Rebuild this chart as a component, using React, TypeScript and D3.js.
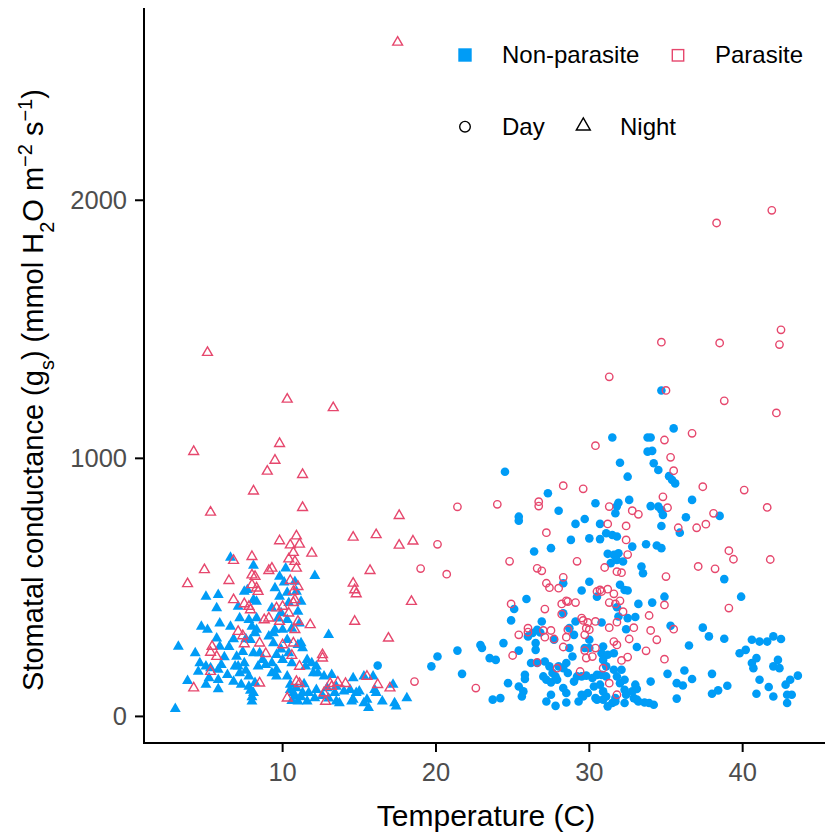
import React from 'react';
import * as d3 from 'd3';

const xTicks = [10, 20, 30, 40];
const yTicks = [0, 1000, 2000];
const groupLabels = ['Non-parasite', 'Parasite'];
const timeLabels = ['Day', 'Night'];

// [temperature (C), stomatal conductance]
const nonParasiteNight: [number, number][] = [
  [3.0,29],[3.2,271],[3.8,138],[4.3,245],[4.6,207],[4.5,174],[4.7,348],[5.1,336],[5.0,464],[5.8,471],[5.7,420],[5.9,361],[5.7,303],[5.9,271],[5.2,149],[5.8,106],[5.3,187],[5.8,181],[6.6,615],[6.6,348],[7.2,381],[7.0,232],[6.9,194],[6.8,135],[7.2,168],[7.7,490],[8.1,584],[8.1,452],[8.3,381],[8.3,336],[7.9,297],[8.1,245],[7.8,116],[8.1,91],[8.0,58],[8.4,194],[8.7,219],[9.1,310],[9.3,207],[9.6,181],[9.6,155],[9.8,542],[10.2,574],[9.8,464],[9.9,400],[10.0,336],[10.3,297],[10.4,245],[10.6,207],[10.5,103],[10.8,77],[11.0,58],[10.8,522],[10.9,484],[11.0,406],[11.2,284],[11.5,194],[12.1,545],[11.9,207],[12.3,168],[11.7,91],[12.1,71],[13.0,316],[13.2,161],[13.5,116],[14.0,97],[14.6,149],[15.3,155],[14.8,91],[15.5,65],[15.6,33],[15.9,155],[16.0,103],[16.5,58],[17.2,123],[17.3,52],[18.1,71],[14.5,58],[13.5,58],
  [7.1,426],[7.8,374],[8.0,348],[8.2,323],[5.0,194],[7.1,194],[7.5,207],[6.4,161],[5.8,142],[5.0,123],[7.3,123],[9.4,284],[8.5,245],[8.9,200],[9.3,168],[7.6,178],[7.8,155],[9.5,336],[9.5,497],[7.5,484],[8.3,445],
  [11.2,445],[10.3,374],[11.1,361],[9.4,323],[11.0,277],[11.3,265],[9.6,239],[10.0,219],[11.6,219],[12.2,194],[10.3,155],[12.0,168],[12.7,155],[10.5,123],[10.7,91],[11.3,91],[11.6,58],[12.2,103],[13.4,91],[13.7,52],[14.4,103],[14.6,65],[15.0,97],[15.3,52],[16.1,91],[17.4,39],
  [10.6,60],[11.2,75],[10.9,110],[11.4,125],[12.6,80],[12.9,110],[13.0,70],[8.0,75],[8.2,130],[7.9,100],[6.2,230],[6.5,270],[6.8,300],[7.4,250],[7.6,300],[6.0,200],[9.3,420],[9.7,380],[10.1,520],[10.3,480],[10.4,440],[10.6,340],[9.9,260]
];

const parasiteNight: [number, number][] = [
  [17.5,2612],[5.1,1410],[10.3,1229],[13.3,1196],[4.2,1026],[9.8,1057],[9.5,992],[9.0,950],[11.3,937],[8.1,873],[11.3,809],[5.3,791],[17.6,778],[14.6,694],[16.1,704],[17.6,663],[18.5,679],[9.8,680],[10.9,699],[10.5,664],[11.1,667],[10.4,610],[10.7,635],[10.8,600],[11.9,632],[8.0,619],[6.8,604],[4.9,568],[3.8,514],[6.5,526],[9.3,574],[9.1,565],[8.0,548],[8.2,542],[8.0,510],[8.3,497],[8.4,484],[6.8,452],[7.5,436],[7.8,426],[7.9,413],[8.8,374],[9.1,381],[7.1,329],[7.4,312],[7.5,281],[8.5,284],[8.9,243],[5.4,271],[5.3,248],[5.7,232],[8.5,129],[4.2,110],[9.6,420],[15.7,565],[14.6,516],[14.7,490],[14.8,475],[10.5,526],[11.0,503],[10.7,484],[10.8,452],[10.7,441],[10.0,426],[14.7,368],[11.8,355],[9.8,368],[10.8,336],[16.9,303],[10.0,277],[10.7,284],[12.6,239],[12.6,226],[10.6,236],[11.1,194],[10.9,135],[11.1,127],[13.1,127],[13.2,116],[13.6,132],[14.1,127],[12.7,91],[12.8,58],[15.5,155],[16.2,123],[17.0,110],[10.3,71],[18.4,445],[5.3,174],[10.4,400],[11.0,368],[10.9,574]
];

const nonParasiteDay: [number, number][] = [
  [31.5,1081],[33.8,1081],[34.0,1081],[35.5,1116],[33.8,1026],[34.1,1029],[32.0,983],[34.2,981],[34.5,955],[32.5,929],[35.2,931],[35.4,916],[35.6,903],[24.5,948],[27.3,865],[25.4,774],[25.4,758],[28.0,797],[30.4,826],[31.9,828],[31.8,815],[31.7,787],[32.6,839],[34.0,815],[34.5,813],[34.7,800],[34.8,781],[36.7,839],[36.3,772],[35.9,712],[38.5,777],[34.7,738],[29.1,746],[29.7,765],[30.7,746],[30.0,690],[30.7,687],[28.8,684],[27.5,652],[26.4,639],[31.1,710],[31.5,703],[31.8,697],[32.8,658],[33.7,667],[34.4,662],[34.7,652],[31.2,630],[31.6,626],[31.9,632],[31.4,594],[31.8,606],[32.2,600],[33.4,581],[33.5,555],[30.0,522],[29.5,488],[30.5,464],[32.0,510],[32.3,490],[32.5,488],[25.9,455],[25.1,416],[24.9,372],[28.3,516],[28.3,400],[33.2,436],[34.1,441],[34.9,464],[38.8,532],[39.9,464],[31.8,423],[31.9,387],[32.5,381],[33.0,385],[32.4,338],[30.8,364],[29.1,368],[28.7,342],[29.0,316],[35.3,351],[37.4,344],[37.8,310],[38.8,301],[36.5,275],[33.1,269],[40.6,297],[41.1,290],[41.6,290],[42.0,310],[42.5,300],[39.8,245],[40.2,258],[40.6,207],[40.9,226],[40.7,187],[42.3,219],[42.0,194],[42.4,187],[41.1,142],[41.7,114],[40.9,88],[42.0,77],[42.9,52],[42.9,84],[43.2,84],[42.8,123],[43.1,142],[43.6,158],[38.0,165],[38.0,88],[38.4,101],[39.0,119],[35.1,165],[35.7,129],[36.1,120],[36.2,178],[36.7,145],[35.7,69],[34.0,135],[34.2,45],[33.6,54],[33.2,58],[32.9,71],[33.1,106],[33.0,123],[32.3,52],[31.7,58],[31.2,39],[30.9,65],[32.3,142],[32.3,103],[32.4,84],[31.8,155],[32.0,129],[30.4,71],[29.9,91],[29.6,77],[29.3,58],[29.5,84],[27.8,41],[28.5,54],[27.2,58],[27.5,84],[28.5,91],[28.3,110],[30.3,116],[30.7,123],[30.2,149],[29.0,135],[29.2,155],[29.5,155],[29.8,158],[31.1,155],[30.8,161],[30.5,161],[28.6,168],[28.3,187],[28.5,207],[28.9,232],[28.7,265],[28.0,194],[27.8,155],[27.5,132],[27.2,142],[27.0,155],[26.6,207],[26.2,207],[25.8,161],[25.8,145],[25.4,116],[25.7,97],[25.6,77],[24.7,129],[23.7,65],[24.2,71],[25.4,255],[24.4,284],[22.9,277],[23.0,265],[23.5,226],[23.9,219],[21.7,165],[21.4,255],[20.1,232],[19.7,194],[26.0,310],[26.3,323],[26.6,336],[26.5,258],[26.5,284],[27.7,297],[26.9,368],[29.7,265],[30.0,265],[30.9,271],[30.8,245],[31.2,239],[31.6,245],[30.9,219],[31.1,194],[16.2,197],[34.7,1263],[26.8,325],[27.1,213],[27.4,194],[27.6,168],[27.9,142],[32.8,97],[33.1,65],[33.9,52],[31.7,71],[31.1,77],[30.5,65],[30.9,97],[31.5,52],[30.0,297],[31.6,181],[32.1,181]
];

const parasiteDay: [number, number][] = [
  [38.3,1912],[41.9,1961],[42.5,1498],[42.4,1441],[38.5,1447],[34.7,1450],[31.3,1316],[35.0,1263],[38.8,1223],[42.2,1176],[30.4,1049],[34.9,1071],[36.7,1097],[35.3,1004],[35.5,952],[28.3,894],[29.6,882],[37.4,890],[40.1,877],[21.4,812],[24.0,822],[26.7,832],[26.7,815],[31.3,813],[32.8,797],[33.2,783],[34.8,851],[35.1,809],[41.6,810],[38.1,787],[27.2,712],[31.2,746],[32.4,738],[35.8,731],[37.0,731],[37.6,745],[32.4,684],[20.1,667],[19.0,573],[20.7,551],[24.8,601],[29.2,601],[26.6,574],[26.9,564],[32.5,627],[31.0,577],[31.8,561],[32.1,557],[39.1,642],[39.4,609],[41.8,608],[37.1,581],[38.2,572],[35.0,542],[28.3,539],[27.2,516],[27.4,499],[28.0,497],[30.7,490],[30.8,484],[30.5,484],[31.2,493],[31.6,475],[32.0,448],[31.7,436],[24.9,436],[28.5,448],[28.6,445],[29.1,441],[28.2,436],[31.3,441],[34.9,432],[39.1,420],[27.1,416],[28.2,396],[32.2,406],[33.9,391],[29.5,381],[29.6,372],[29.9,364],[30.4,368],[30.0,336],[29.8,342],[31.8,365],[31.3,344],[32.9,344],[32.6,300],[34.0,333],[34.4,297],[35.5,338],[26.0,342],[26.0,327],[25.4,316],[27.0,333],[27.5,333],[27.1,307],[27.7,300],[28.6,336],[28.5,307],[29.7,316],[31.6,290],[31.8,277],[28.3,269],[29.7,255],[30.4,265],[29.8,226],[30.2,232],[33.7,254],[32.5,230],[32.1,217],[34.9,222],[25.0,236],[26.6,209],[30.9,187],[31.3,129],[31.8,84],[22.6,110],[18.6,135],[27.9,187],[29.4,174]
];

const BLUE = '#009CF6';
const PINK = '#E6476D';
const TICK_GREY = '#4D4D4D';
const FONT = '"Liberation Sans", Arial, Helvetica, sans-serif';

export default function App() {
  const W = 825;
  const H = 837;
  const left = 144;
  const bottom = 743;
  const top = 8;
  const x = d3.scaleLinear().domain([0.96, 45.5]).range([left, 827]);
  const y = d3.scaleLinear().domain([-103, 2745]).range([bottom, top]);

  const triFilled = d3.symbol().type(d3.symbolTriangle).size(52)() as string;
  const triOpen = d3.symbol().type(d3.symbolTriangle).size(42)() as string;
  const triLegend = d3.symbol().type(d3.symbolTriangle).size(85)() as string;

  return (
    <svg width={W} height={H} style={{ position: 'absolute', left: 0, top: 0, background: '#fff' }} fontFamily={FONT}>
      <rect x={0} y={0} width={W} height={H} fill="#fff" />
      <g>
        {nonParasiteNight.map((d, i) => (
          <path key={'bn' + i} d={triFilled} transform={`translate(${x(d[0])},${y(d[1])})`} fill={BLUE} />
        ))}
        {nonParasiteDay.map((d, i) => (
          <circle key={'bd' + i} cx={x(d[0])} cy={y(d[1])} r={4.3} fill={BLUE} />
        ))}
        {parasiteNight.map((d, i) => (
          <path key={'pn' + i} d={triOpen} transform={`translate(${x(d[0])},${y(d[1])})`} fill="none" stroke={PINK} strokeWidth={1.4} />
        ))}
        {parasiteDay.map((d, i) => (
          <circle key={'pd' + i} cx={x(d[0])} cy={y(d[1])} r={3.7} fill="none" stroke={PINK} strokeWidth={1.4} />
        ))}
      </g>

      {/* axes */}
      <line x1={left} x2={left} y1={top} y2={bottom + 1} stroke="#000" strokeWidth={2} />
      <line x1={left - 1} x2={W} y1={bottom} y2={bottom} stroke="#000" strokeWidth={2} />
      {xTicks.map(t => (
        <g key={'xt' + t}>
          <line x1={x(t)} x2={x(t)} y1={bottom} y2={bottom + 9} stroke="#000" strokeWidth={2} />
          <text x={x(t)} y={780.5} textAnchor="middle" fontSize={25.5} fill={TICK_GREY}>{t}</text>
        </g>
      ))}
      {yTicks.map(t => (
        <g key={'yt' + t}>
          <line x1={left - 9} x2={left} y1={y(t)} y2={y(t)} stroke="#000" strokeWidth={2} />
          <text x={127} y={y(t) + 9} textAnchor="end" fontSize={25.5} fill={TICK_GREY}>{t}</text>
        </g>
      ))}

      {/* axis titles */}
      <text x={486} y={826} textAnchor="middle" fontSize={30} fill="#000">Temperature (C)</text>
      <text transform="translate(43,390) rotate(-90)" textAnchor="middle" fontSize={29} fill="#000">
        Stomatal conductance (g<tspan baselineShift="sub" fontSize={20}>s</tspan>) (mmol H<tspan baselineShift="sub" fontSize={20}>2</tspan>O m<tspan baselineShift="super" fontSize={20}>−2</tspan> s<tspan baselineShift="super" fontSize={20}>−1</tspan>)
      </text>

      {/* legend */}
      <rect x={458.3} y={48.3} width={13.4} height={13.4} fill={BLUE} />
      <text x={502} y={63.3} fontSize={24} fill="#000">{groupLabels[0]}</text>
      <rect x={672.3} y={49.6} width={11.4} height={11.4} fill="none" stroke={PINK} strokeWidth={1.4} />
      <text x={715} y={63.3} fontSize={24} fill="#000">{groupLabels[1]}</text>
      <circle cx={465} cy={126.7} r={5.3} fill="none" stroke="#000" strokeWidth={1.4} />
      <text x={502} y={135} fontSize={24} fill="#000">{timeLabels[0]}</text>
      <path d={triLegend} transform="translate(583.3,126)" fill="none" stroke="#000" strokeWidth={1.4} />
      <text x={620} y={135} fontSize={24} fill="#000">{timeLabels[1]}</text>
    </svg>
  );
}
